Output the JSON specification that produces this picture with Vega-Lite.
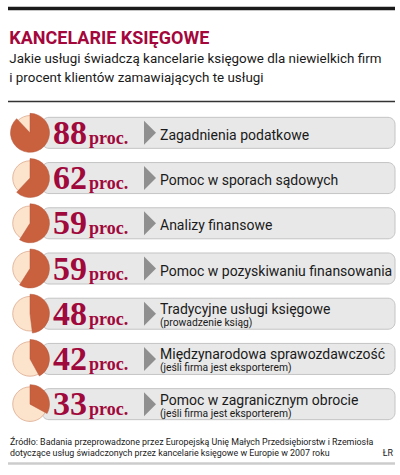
{
  "$schema": "https://vega.github.io/schema/vega-lite/v6.json",
  "padding": {"left": 6, "right": 7, "top": 5, "bottom": 0},
  "background": "white",
  "config": {"view": {"stroke": null}},
  "spacing": 0,
  "datasets": {
    "rows": [
      {"item": "Zagadnienia podatkowe", "value": 88, "sub": null},
      {"item": "Pomoc w sporach sądowych", "value": 62, "sub": null},
      {"item": "Analizy finansowe", "value": 59, "sub": null},
      {"item": "Pomoc w pozyskiwaniu finansowania", "value": 59, "sub": null},
      {"item": "Tradycyjne usługi księgowe", "value": 48, "sub": "(prowadzenie ksiąg)"},
      {"item": "Międzynarodowa sprawozdawczość", "value": 42, "sub": "(jeśli firma jest eksporterem)"},
      {"item": "Pomoc w zagranicznym obrocie", "value": 33, "sub": "(jeśli firma jest eksporterem)"}
    ],
    "footer": [
      {"line": 1, "text": "Źródło: Badania przeprowadzone przez Europejską Unię Małych Przedsiębiorstw i Rzemiosła", "credit": null},
      {"line": 2, "text": "dotyczące usług świadczonych przez kancelarie księgowe w Europie w 2007 roku", "credit": "ŁR"}
    ]
  },
  "vconcat": [
    {
      "width": 387,
      "height": 1,
      "data": {"values": []},
      "mark": {"type": "point"}
    },
    {
      "width": 387,
      "height": 1,
      "data": {"values": [{}]},
      "mark": {"type": "rule", "color": "#1a1a1a", "strokeWidth": 3.5},
      "encoding": {
        "x": {"datum": 0, "type": "quantitative", "scale": {"domain": [0, 1]}, "axis": null},
        "x2": {"datum": 1}
      }
    },
    {
      "width": 387,
      "height": 19,
      "data": {"values": []},
      "mark": {"type": "point"}
    },
    {
      "width": 387,
      "height": 1,
      "title": {
        "text": "KANCELARIE KSIĘGOWE",
        "subtitle": ["Jakie usługi świadczą kancelarie księgowe dla niewielkich firm", "i procent klientów zamawiających te usługi"],
        "anchor": "start",
        "dx": 2,
        "font": "Roboto",
        "fontSize": 18,
        "fontWeight": "bold",
        "color": "#a3073c",
        "subtitleFont": "Roboto",
        "subtitleFontSize": 13.4,
        "subtitleColor": "#1a1a1a",
        "subtitleLineHeight": 19,
        "subtitlePadding": 4,
        "offset": 16
      },
      "data": {"values": [{}]},
      "mark": {"type": "rule", "color": "#333333", "strokeWidth": 1.5},
      "encoding": {
        "x": {"datum": 0, "type": "quantitative", "scale": {"domain": [0, 1]}, "axis": null},
        "x2": {"datum": 1}
      }
    },
    {
      "width": 387,
      "height": 331,
      "data": {"name": "rows"},
      "encoding": {
        "y": {"field": "item", "type": "nominal", "sort": null, "axis": null,
          "scale": {"paddingInner": 0.314, "paddingOuter": 0.317}}
      },
      "layer": [
        {
          "mark": {"type": "rect", "fill": "#e8e8e8", "stroke": "#c4c4c4", "strokeWidth": 1, "cornerRadius": 7},
          "encoding": {"x": {"value": 34}, "x2": {"value": 387}}
        },
        {
          "mark": {"type": "point", "shape": "M-0.5,-1L0.5,0L-0.5,1Z", "filled": true, "size": 576, "color": "#8f8f8f", "opacity": 1},
          "encoding": {"x": {"value": 142}}
        },
        {
          "mark": {"type": "point", "shape": "circle", "filled": true, "size": 1195, "color": "#fbe3cc", "stroke": "#d9a184", "strokeWidth": 0.7, "opacity": 1},
          "encoding": {"x": {"value": 22}}
        },
        {
          "mark": {"type": "arc", "radius": 19.5, "color": "#c9603e", "stroke": "#b5573a", "strokeWidth": 0.5},
          "encoding": {
            "x": {"value": 22},
            "theta": {"field": "value", "type": "quantitative", "stack": null, "scale": {"domain": [0, 100]}}
          }
        },
        {
          "mark": {"type": "text", "align": "left", "baseline": "alphabetic", "dy": 11, "font": "Liberation Serif", "fontWeight": "bold", "fontSize": 34, "color": "#a0093b"},
          "encoding": {"x": {"value": 45}, "text": {"field": "value"}}
        },
        {
          "mark": {"type": "text", "align": "left", "baseline": "alphabetic", "dy": 11, "font": "Liberation Serif", "fontWeight": "bold", "fontSize": 18, "color": "#a0093b"},
          "encoding": {"x": {"value": 81}, "text": {"value": "proc."}}
        },
        {
          "transform": [{"filter": "!datum.sub"}],
          "mark": {"type": "text", "align": "left", "baseline": "alphabetic", "dy": 7, "font": "Roboto", "fontSize": 14, "color": "#1a1a1a"},
          "encoding": {"x": {"value": 152}, "text": {"field": "item"}}
        },
        {
          "transform": [{"filter": "datum.sub"}],
          "mark": {"type": "text", "align": "left", "baseline": "alphabetic", "dy": 0.5, "font": "Roboto", "fontSize": 14, "color": "#1a1a1a"},
          "encoding": {"x": {"value": 152}, "text": {"field": "item"}}
        },
        {
          "transform": [{"filter": "datum.sub"}],
          "mark": {"type": "text", "align": "left", "baseline": "alphabetic", "dy": 12.5, "font": "Roboto", "fontSize": 10.3, "color": "#1a1a1a"},
          "encoding": {"x": {"value": 152}, "text": {"field": "sub"}}
        }
      ]
    },
    {
      "width": 387,
      "height": 28,
      "data": {"name": "footer"},
      "encoding": {
        "y": {"field": "line", "type": "ordinal", "axis": null, "scale": {"type": "point", "padding": 0.773, "align": 0.632}}
      },
      "layer": [
        {
          "mark": {"type": "text", "align": "left", "baseline": "alphabetic", "dx": 2, "font": "Roboto", "fontSize": 8.9, "color": "#1a1a1a"},
          "encoding": {
            "x": {"datum": 0, "type": "quantitative", "scale": {"domain": [0, 1]}, "axis": null},
            "text": {"field": "text"}
          }
        },
        {
          "transform": [{"filter": "datum.credit"}],
          "mark": {"type": "text", "align": "right", "baseline": "alphabetic", "dx": -2, "font": "Roboto", "fontSize": 8.9, "color": "#1a1a1a"},
          "encoding": {
            "x": {"datum": 1, "type": "quantitative", "scale": {"domain": [0, 1]}, "axis": null},
            "text": {"field": "credit"}
          }
        }
      ]
    },
    {
      "width": 387,
      "height": 1,
      "data": {"values": [{}]},
      "mark": {"type": "rule", "color": "#cccccc", "strokeWidth": 2.5},
      "encoding": {
        "x": {"datum": 0, "type": "quantitative", "scale": {"domain": [0, 1]}, "axis": null},
        "x2": {"datum": 1}
      }
    }
  ]
}
